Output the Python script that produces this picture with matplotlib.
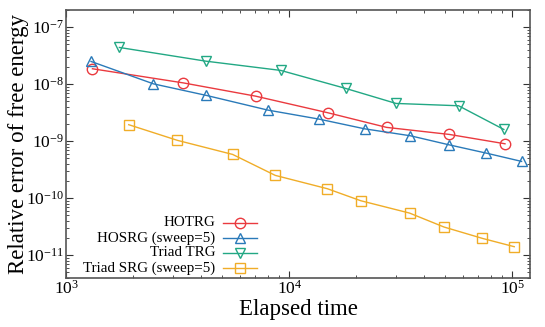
import matplotlib
matplotlib.use("Agg")
import matplotlib.pyplot as plt
from matplotlib.lines import Line2D
import matplotlib.ticker as mticker

hotrg_x = [1310, 3350, 7060, 14900, 27300, 52100, 92700]
hotrg_y = [1.86e-8, 1.05e-8, 6.15e-9, 3.14e-9, 1.74e-9, 1.31e-9, 8.97e-10]

hosrg_x = [1291, 2460, 4250, 8010, 13600, 21800, 34900, 51800, 76400, 110000]
hosrg_y = [2.50e-8, 1.01e-8, 6.33e-9, 3.50e-9, 2.43e-9, 1.64e-9, 1.24e-9, 8.63e-10, 6.15e-10, 4.40e-10]

ttrg_x = [1730, 4220, 9150, 17900, 30100, 57400, 91600]
ttrg_y = [4.40e-8, 2.53e-8, 1.74e-8, 8.40e-9, 4.58e-9, 4.17e-9, 1.60e-9]

tsrg_x = [1905, 3150, 5570, 8650, 14800, 20900, 34600, 49400, 73400, 102000]
tsrg_y = [1.94e-9, 1.03e-9, 5.83e-10, 2.50e-10, 1.46e-10, 8.98e-11, 5.45e-11, 3.10e-11, 1.96e-11, 1.40e-11]

labels = ["HOTRG", "HOSRG (sweep=5)", "Triad TRG", "Triad SRG (sweep=5)"]
colors = ["#ea3a3f", "#2a7ab9", "#22a884", "#f0ad28"]
markers = ["o", "^", "v", "s"]

plt.rcParams['font.family'] = ['Liberation Serif', 'DejaVu Serif']
plt.rcParams['mathtext.fontset'] = 'stix'

fig = plt.figure(figsize=(5.45, 3.27), dpi=100)
ax = fig.add_axes([66.3/545, 1-277.7/327, (530-66.3)/545, (277.7-10)/327])

series = [(hotrg_x, hotrg_y), (hosrg_x, hosrg_y), (ttrg_x, ttrg_y), (tsrg_x, tsrg_y)]
for (xs, ys), c, m in zip(series, colors, markers):
    ax.plot(xs, ys, color=c, lw=1.0, marker=m, ms=7.5,
            mfc='none', mec=c, mew=1.0)

ax.set_xscale('log')
ax.set_yscale('log')
ax.set_xlim(1000, 1.2e5)
ax.set_ylim(4.0e-12, 2.0e-7)

ax.xaxis.set_major_locator(mticker.LogLocator(base=10, numticks=10))
ax.yaxis.set_major_locator(mticker.LogLocator(base=10, numticks=10))
ax.xaxis.set_minor_locator(mticker.LogLocator(base=10, subs=range(2, 10), numticks=10))
ax.yaxis.set_minor_locator(mticker.LogLocator(base=10, subs=range(2, 10), numticks=10))
ax.xaxis.set_minor_formatter(mticker.NullFormatter())
ax.yaxis.set_minor_formatter(mticker.NullFormatter())

ax.tick_params(which='both', direction='in', top=True, right=True, colors='#333333',
               labelcolor='black')
ax.tick_params(which='major', length=5, width=0.8, labelsize=12.5)
ax.tick_params(which='minor', length=2.5, width=0.6)
ax.tick_params(axis='x', pad=1.5)
ax.tick_params(axis='y', pad=1.5)
for s in ax.spines.values():
    s.set_color('#555555')
    s.set_linewidth(1.2)

ax.set_xlabel("Elapsed time", fontsize=16.5, labelpad=1)
ax.set_ylabel("Relative error of free energy", fontsize=16.5, labelpad=-2)

# gnuplot-style legend: right-aligned text, sample on the right
rows_y = [222.7, 237.8, 253.0, 268.0]
for lab, c, m, yp in zip(labels, colors, markers, rows_y):
    yf = 1 - yp/327
    fig.text(215/545, yf, lab, ha='right', va='center', fontsize=10.8)
    fig.add_artist(Line2D([223/545, 257/545], [yf, yf], color=c, lw=1.0,
                          transform=fig.transFigure))
    fig.add_artist(Line2D([240/545], [yf], color=c, marker=m, ms=7.5,
                          mfc='none', mec=c, mew=1.0, transform=fig.transFigure))

fig.savefig("out.png", dpi=100)
